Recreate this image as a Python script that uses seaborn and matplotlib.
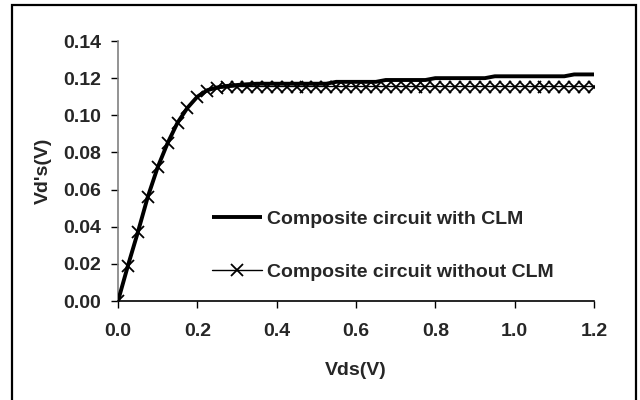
import matplotlib
matplotlib.use("Agg")
import matplotlib.pyplot as plt
import matplotlib.patches as mpatches
import seaborn as sns
import pandas as pd

vds = [0.000, 0.025, 0.050, 0.075, 0.100, 0.125, 0.150, 0.175, 0.200, 0.225,
       0.250, 0.275, 0.300, 0.325, 0.350, 0.375, 0.400, 0.425, 0.450, 0.475,
       0.500, 0.525, 0.550, 0.575, 0.600, 0.625, 0.650, 0.675, 0.700, 0.725,
       0.750, 0.775, 0.800, 0.825, 0.850, 0.875, 0.900, 0.925, 0.950, 0.975,
       1.000, 1.025, 1.050, 1.075, 1.100, 1.125, 1.150, 1.175, 1.200]

with_clm = [0.000, 0.019, 0.037, 0.056, 0.072, 0.085, 0.096, 0.104, 0.110, 0.1135,
            0.1150, 0.1158, 0.1163, 0.1167, 0.117, 0.117, 0.117, 0.117, 0.117, 0.117,
            0.117, 0.117, 0.118, 0.118, 0.118, 0.118, 0.118, 0.119, 0.119, 0.119,
            0.119, 0.119, 0.120, 0.120, 0.120, 0.120, 0.120, 0.120, 0.121, 0.121,
            0.121, 0.121, 0.121, 0.121, 0.121, 0.121, 0.122, 0.122, 0.122]

without_clm = [0.000, 0.019, 0.037, 0.056, 0.072, 0.085, 0.096, 0.104, 0.110, 0.113,
               0.1145, 0.1150, 0.1155, 0.1155, 0.1155, 0.1155, 0.1155, 0.1155, 0.1155, 0.1155,
               0.1155, 0.1155, 0.1155, 0.1155, 0.1155, 0.1155, 0.1155, 0.1155, 0.1155, 0.1155,
               0.1155, 0.1155, 0.1155, 0.1155, 0.1155, 0.1155, 0.1155, 0.1155, 0.1155, 0.1155,
               0.1155, 0.1155, 0.1155, 0.1155, 0.1155, 0.1155, 0.1155, 0.1155, 0.1155]

label_with = "Composite circuit with CLM"
label_without = "Composite circuit without CLM"
x_ticks = [0.0, 0.2, 0.4, 0.6, 0.8, 1.0, 1.2]
y_ticks = [0.00, 0.02, 0.04, 0.06, 0.08, 0.10, 0.12, 0.14]

sns.set_theme(style="white")
plt.rcParams["font.family"] = ["Liberation Sans", "DejaVu Sans"]
plt.rcParams["font.weight"] = "bold"
FS = 14

df = pd.DataFrame({"vds": vds, "with": with_clm, "without": without_clm})

fig = plt.figure(figsize=(6.4, 4.0), dpi=100)
ax = fig.add_axes([118 / 640, 1 - 301 / 400, (594 - 118) / 640, (301 - 41) / 400])

sns.lineplot(data=df, x="vds", y="without", ax=ax, color="black", linewidth=1.0,
             marker="x", markersize=8.5, markeredgewidth=1.3, markeredgecolor="black",
             label=label_without, zorder=2)
sns.lineplot(data=df, x="vds", y="with", ax=ax, color="black", linewidth=2.8,
             label=label_with, zorder=3, solid_capstyle="butt")

ax.set_xlim(0, 1.2)
ax.set_ylim(0, 0.14)
ax.set_xticks(x_ticks)
ax.set_xticklabels([f"{t:.1f}" for t in x_ticks], fontsize=FS, fontweight="bold")
ax.set_yticks(y_ticks)
ax.set_yticklabels([f"{t:.2f}" for t in y_ticks], fontsize=FS, fontweight="bold")
ax.tick_params(axis="both", direction="out", length=5, width=1, color="black",
               bottom=True, left=True)
ax.tick_params(axis="x", pad=11)
ax.tick_params(axis="y", pad=7)

for s in ["top", "right"]:
    ax.spines[s].set_visible(False)
ax.spines["left"].set_color("#808080")
ax.spines["left"].set_linewidth(1.2)
ax.spines["bottom"].set_color("black")
ax.spines["bottom"].set_linewidth(1.2)

ax.set_xlabel("Vds(V)", fontsize=FS, fontweight="bold", labelpad=16)
ax.set_ylabel("Vd's(V)", fontsize=FS, fontweight="bold", labelpad=8)

handles, labels = ax.get_legend_handles_labels()
order = [labels.index(label_with), labels.index(label_without)]
ax.legend([handles[i] for i in order], [labels[i] for i in order],
          loc="upper left", bbox_to_anchor=(194 / 640, 1 - 193 / 400),
          bbox_transform=fig.transFigure, frameon=False,
          handlelength=2.6, handletextpad=0.26, labelspacing=1.8,
          prop={"weight": "bold", "size": FS})

border = mpatches.Rectangle((12 / 640, -0.1), (636 - 12) / 640, 1.1 - 5 / 400,
                            transform=fig.transFigure, fill=False,
                            edgecolor="black", linewidth=1.6)
fig.patches.append(border)

fig.savefig("out.png", dpi=100)
